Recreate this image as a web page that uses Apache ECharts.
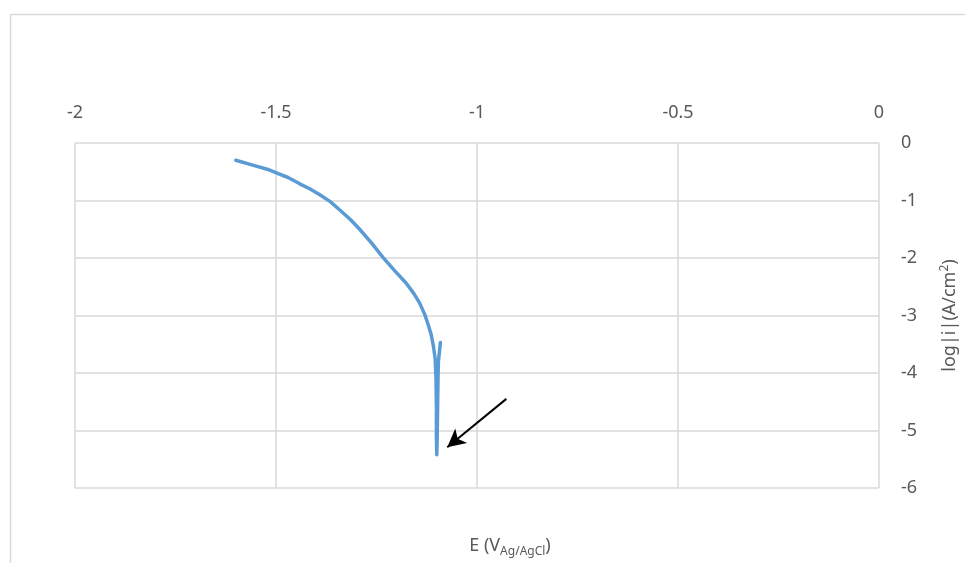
<!DOCTYPE html>
<html>
<head>
<meta charset="utf-8">
<script src="https://cdn.jsdelivr.net/npm/echarts@6/dist/echarts.min.js"></script>
<style>
  html, body { margin: 0; padding: 0; background: #fff; }
  #chart { width: 965px; height: 563px; }
</style>
</head>
<body>
<div id="chart"></div>
<script>
// potential E (V vs Ag/AgCl)
const potential = [
  -1.600, -1.560, -1.520, -1.499, -1.470, -1.441, -1.415, -1.391, -1.365, -1.342,
  -1.315, -1.292, -1.262, -1.234, -1.205, -1.176, -1.157, -1.143, -1.130, -1.121,
  -1.114, -1.108, -1.104, -1.102, -1.101, -1.101, -1.100, -1.099, -1.098, -1.097,
  -1.096, -1.093, -1.091
]
// log|i| (A/cm2)
const logCurrent = [
  -0.30, -0.38, -0.46, -0.52, -0.60, -0.71, -0.80, -0.90, -1.02, -1.16,
  -1.33, -1.50, -1.74, -1.99, -2.22, -2.44, -2.62, -2.78, -2.98, -3.17,
  -3.33, -3.55, -3.76, -4.10, -4.60, -5.10, -5.42, -5.10, -4.60, -4.10,
  -3.80, -3.60, -3.47
]
// arrow pointing at the corrosion potential
const arrowTail = [-0.927, -4.45]
const arrowHead = [-1.074, -5.29]

const textColor = '#595959'
const gridColor = '#d9d9d9'
const fontFamily = 'Noto Sans'

const chart = echarts.init(document.getElementById('chart'))
chart.setOption({
  backgroundColor: '#fff',
  animation: false,
  grid: { left: 75, right: 86, top: 143, bottom: 75, containLabel: false, outerBoundsMode: 'none' },
  xAxis: {
    type: 'value',
    position: 'top',
    min: -2,
    max: 0,
    interval: 0.5,
    axisLine: { show: false },
    axisTick: { show: false },
    axisLabel: { color: textColor, fontSize: 18, fontFamily, margin: 21 },
    splitLine: { lineStyle: { color: gridColor, width: 1.5 } }
  },
  yAxis: {
    type: 'value',
    position: 'right',
    min: -6,
    max: 0,
    interval: 1,
    axisLine: { show: false },
    axisTick: { show: false },
    axisLabel: { color: textColor, fontSize: 18, fontFamily, margin: 22, align: 'left' },
    splitLine: { lineStyle: { color: gridColor, width: 1.5 } },
    name: '{a|log|i|(A/cm}{s|2}{a|)}',
    nameLocation: 'middle',
    nameRotate: 90,
    nameGap: 60,
    nameTextStyle: {
      rich: {
        a: { color: textColor, fontSize: 18, fontFamily },
        s: { color: textColor, fontSize: 12, fontFamily, verticalAlign: 'top', padding: [0, 0, 9, 0] }
      }
    }
  },
  graphic: [
    {
      type: 'rect',
      shape: { x: 10.5, y: 14.5, width: 1000, height: 600 },
      style: { fill: 'none', stroke: gridColor, lineWidth: 1.5 },
      silent: true
    },
    {
      type: 'text',
      x: 510,
      y: 546,
      style: {
        text: '{a|E (V}{b|Ag/AgCl}{a|)}',
        align: 'center',
        verticalAlign: 'middle',
        rich: {
          a: { fill: textColor, fontSize: 18, fontFamily },
          b: { fill: textColor, fontSize: 12, fontFamily, padding: [11, 0, 0, 0] }
        }
      }
    }
  ],
  series: [{
    type: 'line',
    data: potential.map((e, i) => [e, logCurrent[i]]),
    showSymbol: false,
    smooth: false,
    lineStyle: { color: '#5b9bd5', width: 3.5, cap: 'round', join: 'round' },
    markLine: {
      silent: true,
      symbol: ['none', 'arrow'],
      symbolSize: [14, 18],
      label: { show: false },
      lineStyle: { color: '#000', width: 2, type: 'solid' },
      data: [[{ coord: arrowTail }, { coord: arrowHead }]]
    }
  }]
})
</script>
</body>
</html>
